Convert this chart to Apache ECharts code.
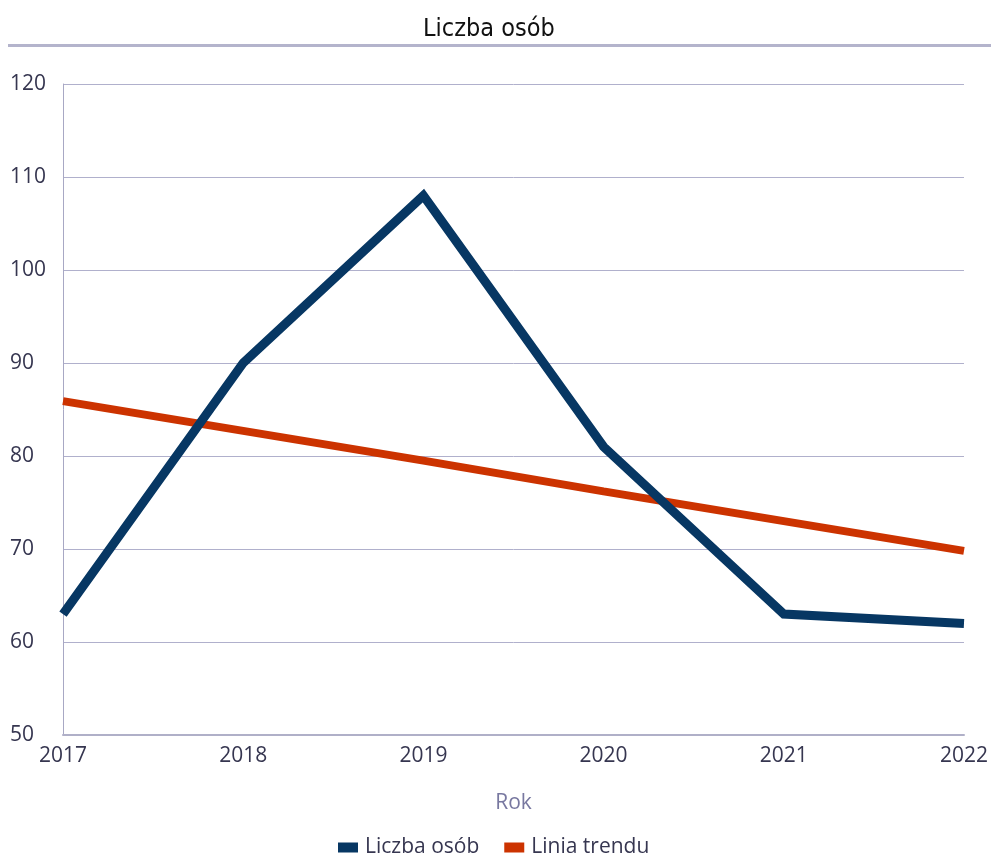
<!DOCTYPE html>
<html>
<head>
<meta charset="utf-8">
<script src="https://cdn.jsdelivr.net/npm/echarts@6/dist/echarts.min.js"></script>
<style>
  html, body { margin: 0; padding: 0; background: #fff; }
  #chart { width: 991px; height: 860px; }
</style>
</head>
<body>
<div id="chart"></div>
<script>
// dane
const years = ['2017', '2018', '2019', '2020', '2021', '2022'];
const liczbaOsob = [63, 90, 108, 81, 63, 62];
const liniaTrendu = [85.9, 82.7, 79.5, 76.2, 73.0, 69.8];
const yTicks = { min: 50, max: 120, interval: 10 };

const labelFont = '"Open Sans", "DejaVu Sans", sans-serif';
const textColor = '#363650';

const chart = echarts.init(document.getElementById('chart'));

const option = {
    animation: false,
    backgroundColor: '#fff',
    title: {
        text: 'Liczba osób',
        left: 418,
        top: 12,
        textStyle: {
            fontFamily: '"Liberation Sans Narrow", "DejaVu Sans Condensed", sans-serif',
            fontWeight: 'normal',
            fontSize: 25,
            color: '#111'
        }
    },
    // linia pod tytułem
    graphic: [{
        type: 'rect',
        shape: { x: 8, y: 44, width: 983, height: 3 },
        style: { fill: '#b4b4cc' }
    }],
    grid: {
        left: 63,
        right: 26,
        top: 84,
        bottom: 125,
        containLabel: false
    },
    legend: {
        data: ['Liczba osób', 'Linia trendu'],
        bottom: -3,
        left: 333,
        icon: 'rect',
        itemWidth: 20,
        itemHeight: 10,
        itemGap: 25,
        textStyle: {
            fontFamily: labelFont,
            fontSize: 21,
            color: textColor,
            padding: [0, 0, 0, 2]
        }
    },
    xAxis: {
        type: 'category',
        boundaryGap: false,
        data: years,
        name: 'Rok',
        nameLocation: 'middle',
        nameGap: 58,
        nameTextStyle: {
            fontFamily: labelFont,
            fontSize: 21,
            color: '#7878a0'
        },
        axisLine: { lineStyle: { color: '#b0b0c8', width: 2 } },
        axisTick: { show: false },
        axisLabel: {
            margin: 11,
            fontFamily: labelFont,
            fontSize: 21,
            color: textColor
        }
    },
    yAxis: {
        type: 'value',
        min: yTicks.min,
        max: yTicks.max,
        interval: yTicks.interval,
        axisLine: { show: true, lineStyle: { color: '#a8a8c4', width: 1 } },
        axisTick: { show: false },
        splitLine: { lineStyle: { color: '#b0b0cc', width: 1 } },
        axisLabel: {
            margin: 53,
            align: 'left',
            padding: [0, 0, 7, 0],
            fontFamily: labelFont,
            fontSize: 21,
            color: textColor
        }
    },
    series: [
        {
            name: 'Liczba osób',
            type: 'line',
            data: liczbaOsob,
            symbol: 'none',
            lineStyle: { width: 9, color: '#073763', join: 'miter' },
            itemStyle: { color: '#073763' },
            z: 3
        },
        {
            name: 'Linia trendu',
            type: 'line',
            data: liniaTrendu,
            symbol: 'none',
            lineStyle: { width: 8, color: '#cc3300' },
            itemStyle: { color: '#cc3300' },
            z: 2
        }
    ]
};

chart.setOption(option);
</script>
</body>
</html>
